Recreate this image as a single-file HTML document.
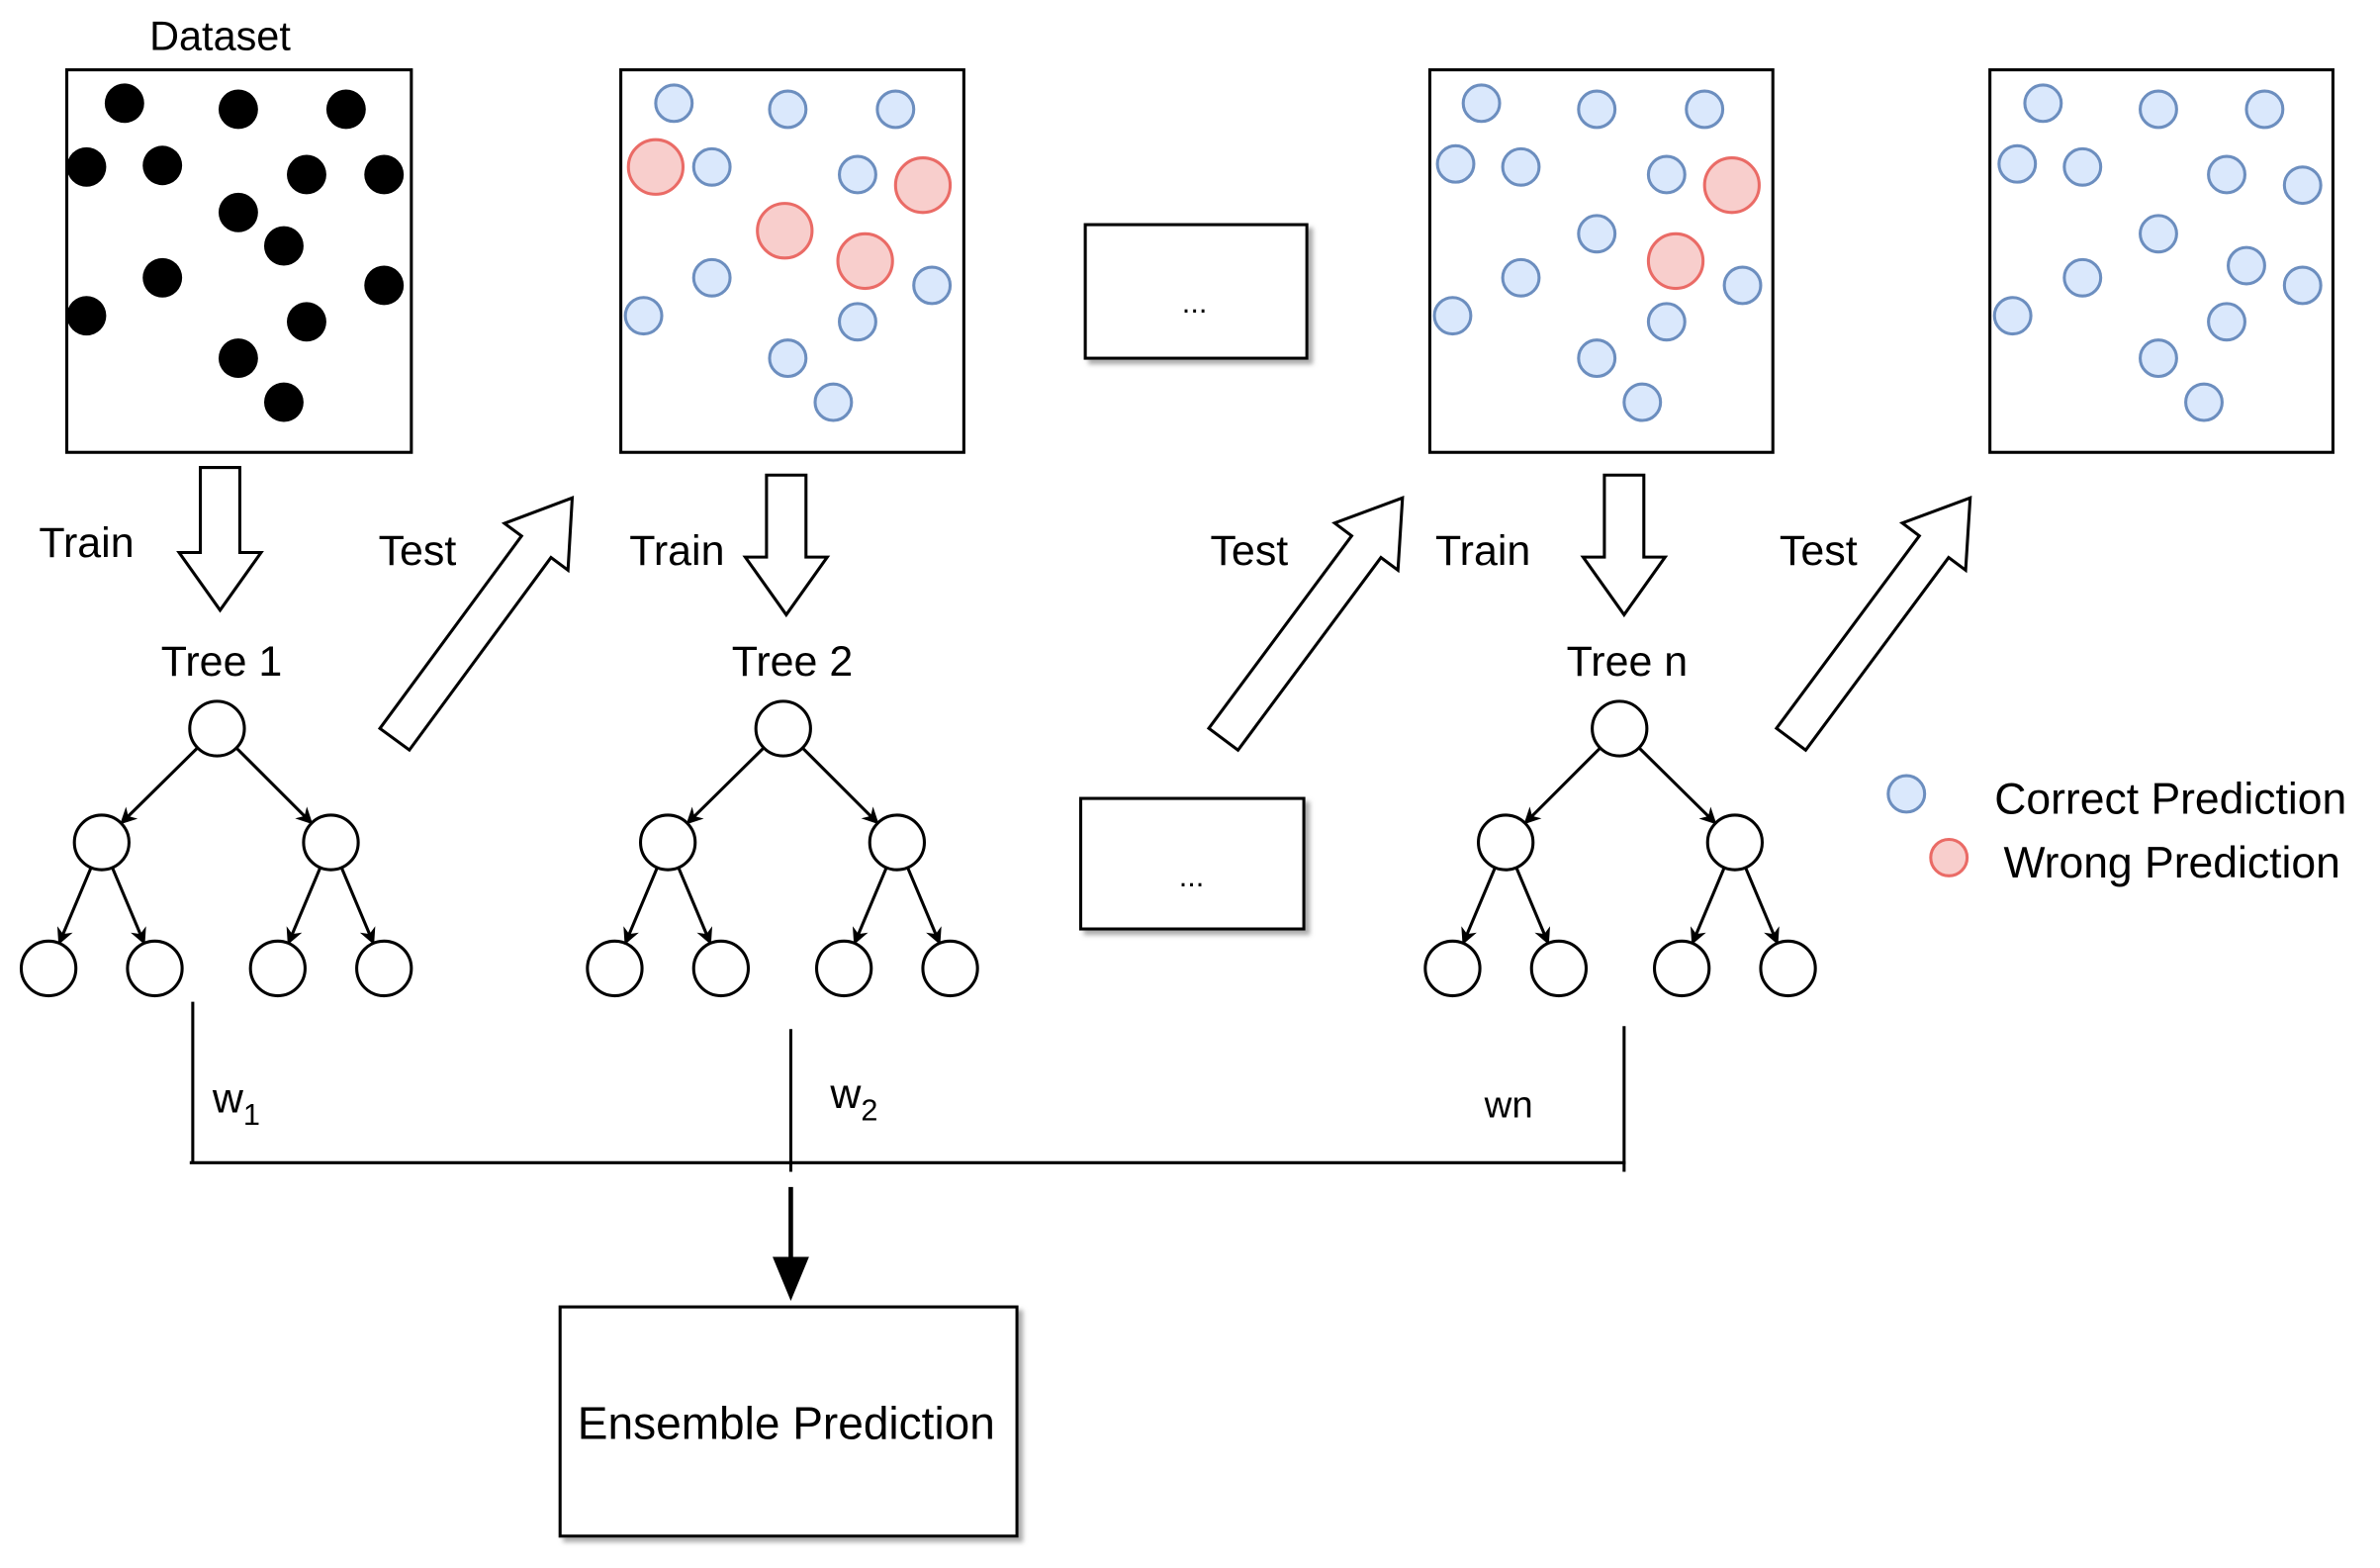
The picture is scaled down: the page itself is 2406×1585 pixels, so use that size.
<!DOCTYPE html>
<html><head><meta charset="utf-8"><style>
html,body{margin:0;padding:0;background:#fff;}
svg{display:block;}
text{font-family:"Liberation Sans",Arial,sans-serif;fill:#000;}
</style></head><body>
<svg id="s" width="2406" height="1585" viewBox="0 0 1568 1033" preserveAspectRatio="none" xmlns="http://www.w3.org/2000/svg">
<defs>
<marker id="ah" viewBox="0 0 10 10" refX="9" refY="5" markerWidth="11" markerHeight="11" orient="auto" markerUnits="userSpaceOnUse">
<path d="M0,0 L10,5 L0,10 L3,5 z" fill="#000"/></marker>
<filter id="sh" x="-5%" y="-5%" width="115%" height="115%"><feDropShadow dx="3" dy="3" stdDeviation="1.5" flood-color="#888" flood-opacity="0.7"/></filter>
</defs>
<g fill="#fff" stroke="#000" stroke-width="2">
<rect x="44" y="46" width="227" height="252"/>
<rect x="409" y="46" width="226" height="252"/>
<rect x="942" y="46" width="226" height="252"/>
<rect x="1311" y="46" width="226" height="252"/>
<rect x="715" y="148" width="146" height="88" filter="url(#sh)"/>
<rect x="712" y="526" width="147" height="86" filter="url(#sh)"/>
<rect x="369" y="861" width="301" height="151" filter="url(#sh)"/>
</g>
<g id="dots"></g>
<g id="trees"></g>
<g id="arrows" fill="#fff" stroke="#000" stroke-width="2"></g>
<g stroke="#000" stroke-width="2" fill="none">
<line x1="127" y1="660" x2="127" y2="766"/>
<line x1="521" y1="678" x2="521" y2="772"/>
<line x1="1070" y1="676" x2="1070" y2="772"/>
<line x1="125" y1="766" x2="1071" y2="766"/>
<line x1="521" y1="782" x2="521" y2="835" stroke-width="3"/>
</g>
<path d="M509,828 L533,828 L521,857 z" fill="#000"/>
<circle cx="1256" cy="523" r="12" fill="#dae8fc" stroke="#6c8ebf" stroke-width="2"/>
<circle cx="1284" cy="565" r="12" fill="#f8cecc" stroke="#ea6b66" stroke-width="2"/>
<g font-size="28">
<text x="145" y="33" text-anchor="middle" font-size="27">Dataset</text>
<text x="57" y="367" text-anchor="middle">Train</text>
<text x="275" y="372" text-anchor="middle">Test</text>
<text x="446" y="372" text-anchor="middle">Train</text>
<text x="823" y="372" text-anchor="middle">Test</text>
<text x="977" y="372" text-anchor="middle">Train</text>
<text x="1198" y="372" text-anchor="middle">Test</text>
<text x="146" y="445" text-anchor="middle">Tree 1</text>
<text x="522" y="445" text-anchor="middle">Tree 2</text>
<text x="1072" y="445" text-anchor="middle">Tree n</text>
<text x="787" y="206" text-anchor="middle" font-size="20">...</text>
<text x="785" y="584" text-anchor="middle" font-size="20">...</text>
<text x="518" y="948" text-anchor="middle" font-size="30">Ensemble Prediction</text>
<text x="1314" y="536" font-size="29">Correct Prediction</text>
<text x="1320" y="578" font-size="29">Wrong Prediction</text>
<text x="140" y="733">w<tspan font-size="20" dy="8">1</tspan></text>
<text x="547" y="730">w<tspan font-size="20" dy="8">2</tspan></text>
<text x="978" y="736" font-size="25">wn</text>
</g>
<script>
var NS="http://www.w3.org/2000/svg";
function el(p,t,a){var e=document.createElementNS(NS,t);for(var k in a)e.setAttribute(k,a[k]);p.appendChild(e);return e;}
var D=document.getElementById("dots");
[[82,68],[157,72],[228,72],[57,110],[107,109],[202,115],[253,115],[157,140],[187,162],[107,183],[253,188],[57,208],[202,212],[157,236],[187,265]].forEach(function(p){el(D,"circle",{cx:p[0],cy:p[1],r:13,fill:"#000"});});
function blue(a){a.forEach(function(p){el(D,"circle",{cx:p[0],cy:p[1],r:12,fill:"#dae8fc",stroke:"#6c8ebf","stroke-width":2});});}
function red(a){a.forEach(function(p){el(D,"circle",{cx:p[0],cy:p[1],r:18,fill:"#f8cecc",stroke:"#ea6b66","stroke-width":2});});}
blue([[444,68],[519,72],[590,72],[469,110],[565,115],[469,183],[424,208],[614,188],[565,212],[519,236],[549,265]]);
red([[432,110],[517,152],[608,122],[570,172]]);
blue([[976,68],[1052,72],[1123,72],[959,108],[1002,110],[1098,115],[1052,154],[1002,183],[957,208],[1148,188],[1098,212],[1052,236],[1082,265]]);
red([[1141,122],[1104,172]]);
blue([[1346,68],[1422,72],[1492,72],[1329,108],[1372,110],[1467,115],[1517,122],[1422,154],[1372,183],[1326,208],[1480,175],[1517,188],[1467,212],[1422,236],[1452,265]]);
var T=document.getElementById("trees");
function edge(a,b){var dx=b[0]-a[0],dy=b[1]-a[1],L=Math.sqrt(dx*dx+dy*dy),r=18;
el(T,"line",{x1:a[0]+dx/L*r,y1:a[1]+dy/L*r,x2:b[0]-dx/L*r,y2:b[1]-dy/L*r,stroke:"#000","stroke-width":2,"marker-end":"url(#ah)"});}
function tree(rx,l,r2,leaves){var R=[rx,480],A=[l,555],B=[r2,555];var L=leaves.map(function(x){return [x,638];});
edge(R,A);edge(R,B);edge(A,L[0]);edge(A,L[1]);edge(B,L[2]);edge(B,L[3]);
[R,A,B].concat(L).forEach(function(p){el(T,"circle",{cx:p[0],cy:p[1],r:18,fill:"#fff",stroke:"#000","stroke-width":2});});}
tree(143,67,218,[32,102,183,253]);
tree(516,440,591,[405,475,556,626]);
tree(1067,992,1143,[957,1027,1108,1178]);
var Ar=document.getElementById("arrows");
function down(x,y0,y1){el(Ar,"path",{d:"M"+(x-13)+","+y0+" L"+(x+13)+","+y0+" L"+(x+13)+","+(y1-38)+" L"+(x+27)+","+(y1-38)+" L"+x+","+y1+" L"+(x-27)+","+(y1-38)+" L"+(x-13)+","+(y1-38)+" z"});}
down(145,308,402);down(518,313,405);down(1070,313,405);
function diag(x0,y0,x1,y1){var dx=x1-x0,dy=y1-y0,L=Math.sqrt(dx*dx+dy*dy),ux=dx/L,uy=dy/L,nx=-uy,ny=ux,w=12,hw=26,hl=40;
var bx=x1-ux*hl,by=y1-uy*hl;
var pts=[[x0+nx*w,y0+ny*w],[bx+nx*w,by+ny*w],[bx+nx*hw,by+ny*hw],[x1,y1],[bx-nx*hw,by-ny*hw],[bx-nx*w,by-ny*w],[x0-nx*w,y0-ny*w]];
el(Ar,"polygon",{points:pts.map(function(p){return p[0].toFixed(1)+","+p[1].toFixed(1);}).join(" ")});}
diag(260,487,377,328);diag(806,487,924,328);diag(1180,487,1298,328);
</script>
</svg>
</body></html>
